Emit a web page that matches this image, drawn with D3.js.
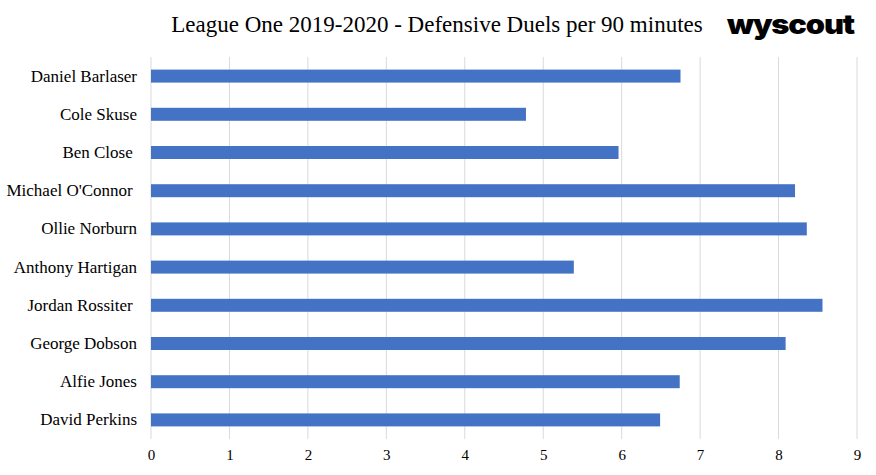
<!DOCTYPE html>
<html>
<head>
<meta charset="utf-8">
<script src="https://cdn.jsdelivr.net/npm/d3@7"></script>
<style>
  body { margin: 0; background: #fff; }
  text { font-family: "Liberation Serif", "Times New Roman", serif; fill: #000; }
</style>
</head>
<body>
<div class="graph_container"></div>
<script>
// data
const players = ["Daniel Barlaser", "Cole Skuse", "Ben Close ", "Michael O'Connor ", "Ollie Norburn",
  "Anthony Hartigan", "Jordan Rossiter ", "George Dobson", "Alfie Jones", "David Perkins"];
const duels = [6.75, 4.78, 5.96, 8.21, 8.36, 5.39, 8.56, 8.09, 6.74, 6.49];
const xTicks = [0, 1, 2, 3, 4, 5, 6, 7, 8, 9];
const title = "League One 2019-2020 - Defensive Duels per 90 minutes";

// dimensions
const W = 876, H = 475;
const margin_left = 151, margin_right = 19, margin_top = 57, margin_bottom = 36;
const width = W - margin_left - margin_right;
const height = H - margin_top - margin_bottom;
const serif = "'Liberation Serif', 'Times New Roman', serif";

const svg = d3.select(".graph_container").append("svg")
  .attr("width", W).attr("height", H);

// title + logo
svg.append("text").attr("x", 437).attr("y", 32)
  .attr("text-anchor", "middle").attr("font-family", serif)
  .style("font-size", "23px").text(title);
svg.append("text").attr("x", 727).attr("y", 34)
  .attr("textLength", 127).attr("lengthAdjust", "spacingAndGlyphs")
  .style("font-family", "Inter, 'DejaVu Sans', sans-serif").style("font-weight", "900")
  .style("font-size", "27px").style("letter-spacing", "-1px").text("wyscout");

const g = svg.append("g").attr("transform", `translate(${margin_left},${margin_top})`);

const xScale = d3.scaleLinear().domain([0, 9]).range([0, width]);
const yScale = d3.scaleBand().domain(players).range([0, height]).paddingInner(0.66).paddingOuter(0.33);

// gridlines
g.selectAll(".grid").data(xTicks).enter().append("line")
  .attr("x1", d => xScale(d)).attr("x2", d => xScale(d))
  .attr("y1", 0).attr("y2", height)
  .attr("stroke", "#d9d9d9").attr("stroke-width", 1);

// x axis labels
const xAxis = d3.axisBottom(xScale).tickValues(xTicks).tickSize(0).tickPadding(10);
g.append("g").attr("transform", `translate(0,${height})`).call(xAxis)
  .attr("font-family", serif).attr("font-size", 15)
  .call(s => s.select(".domain").remove())
  .selectAll("text").attr("fill", "#000");

// bars
g.selectAll(".bar").data(players).enter().append("rect")
  .attr("x", 0).attr("y", d => yScale(d))
  .attr("width", (d, i) => xScale(duels[i]))
  .attr("height", yScale.bandwidth())
  .attr("fill", "#4472C4");

// y labels
const yAxis = d3.axisLeft(yScale).tickSize(0).tickPadding(14);
g.append("g").call(yAxis)
  .attr("font-family", serif).attr("font-size", 17)
  .call(s => s.select(".domain").remove())
  .selectAll("text").style("white-space", "pre").attr("fill", "#000");
</script>
</body>
</html>
